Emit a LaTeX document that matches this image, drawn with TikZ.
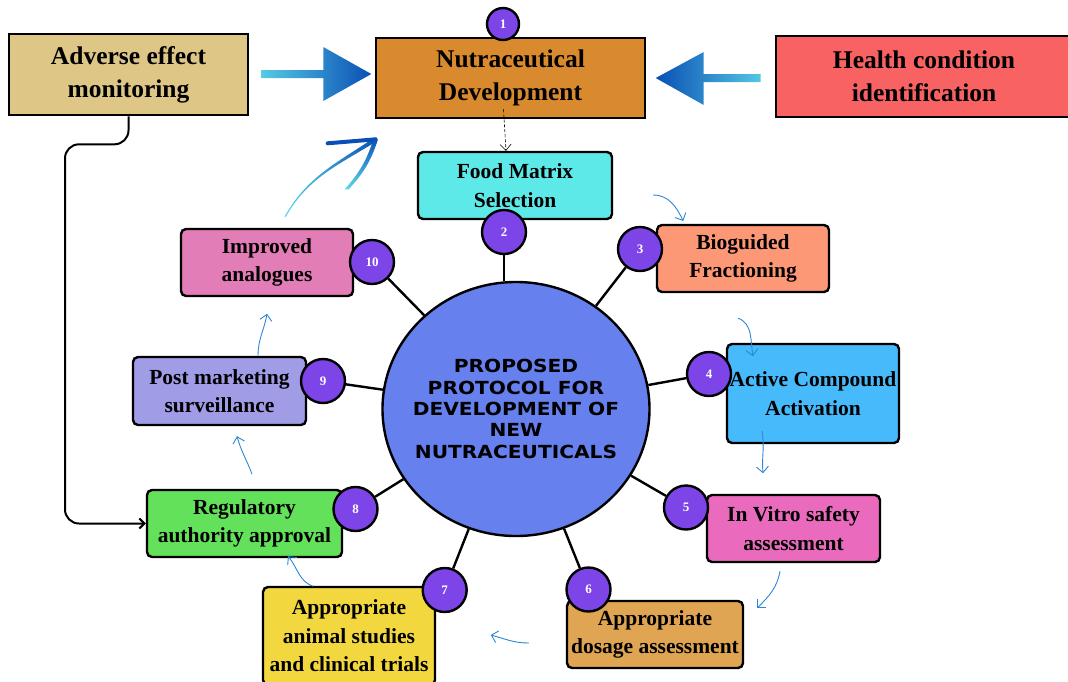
\documentclass[tikz,border=0pt]{standalone}
\usepackage{fontspec}
\setmainfont{Liberation Serif}
\newfontfamily\hubfont[FakeStretch=1.12]{DejaVu Sans}
\usetikzlibrary{arrows.meta,calc,shapes.geometric}

\definecolor{advtan}{HTML}{DEC687}
\definecolor{nutraorange}{HTML}{D98A2E}
\definecolor{healthred}{HTML}{F86262}
\definecolor{foodcyan}{HTML}{5EE9E9}
\definecolor{bioorange}{HTML}{FD9876}
\definecolor{activeblue}{HTML}{47BAFC}
\definecolor{vitropink}{HTML}{EA6BBE}
\definecolor{dosagegold}{HTML}{DFA553}
\definecolor{animalyellow}{HTML}{F2D83E}
\definecolor{regreen}{HTML}{63E15B}
\definecolor{postlav}{HTML}{A09CE6}
\definecolor{imprpink}{HTML}{E37DB8}
\definecolor{hubblue}{HTML}{6680EE}
\definecolor{numpurple}{HTML}{7D45E8}
\definecolor{acyan}{HTML}{5DD8E8}
\definecolor{ablue}{HTML}{0A4FB5}
\definecolor{flowblue}{HTML}{2C86D4}

\tikzset{
  topbox/.style={draw, line width=2.6pt, align=center, inner sep=2pt,
    font=\fontsize{25.5}{33}\selectfont\bfseries},
  stepbox/.style={draw, line width=2.4pt, rounded corners=5pt, align=center, inner sep=2pt,
    font=\fontsize{21.5}{28.5}\selectfont\bfseries},
  num/.style={circle, draw, line width=2.4pt, fill=numpurple, text=white,
    minimum size=44pt, inner sep=0pt, font=\fontsize{13}{13}\selectfont\bfseries},
  spoke/.style={line width=2.4pt},
  flow/.style={draw=flowblue, line width=0.9pt, -{Straight Barb[length=6pt,width=12pt]}},
}

\begin{document}
\begin{tikzpicture}[x=1pt, y=1pt]

    \useasboundingbox (0,0) rectangle (1068,-681);

    % top row
    \node[topbox, fill=advtan, minimum width=239pt, minimum height=81pt] (adv) at (128.5,-74.5) {Adverse effect\\monitoring};
    \node[topbox, fill=nutraorange, minimum width=269pt, minimum height=80pt] (nutra) at (510.5,-78) {Nutraceutical\\Development};
    \node[topbox, fill=healthred, minimum width=296pt, minimum height=81pt] (health) at (924,-76.5) {Health condition\\identification};
    \node[num, minimum size=32pt] (n1) at (503,-24) {1};

    \shade[left color=acyan, right color=ablue] (adv.east) ++(12,4.5) -- ++(62,0) -- ++(0,23) -- ++(48,-27) -- ++(-48,-27) -- ++(0,23) -- ++(-62,0) -- cycle;
    \shade[left color=ablue, right color=acyan] (health.west) ++(-14,2.5) -- ++(-57,0) -- ++(0,22) -- ++(-48,-26) -- ++(48,-27) -- ++(0,23) -- ++(57,0) -- cycle;

    % steps round the hub
    \node[stepbox, fill=foodcyan, minimum width=194pt, minimum height=67pt] (food) at (515,-185.5) {Food Matrix\\Selection};
    \node[stepbox, fill=bioorange, minimum width=172pt, minimum height=67pt] (bio) at (743,-258.5) {Bioguided\\Fractioning};
    \node[stepbox, fill=activeblue, minimum width=172pt, minimum height=99pt] (active) at (813,-393.5) {Active Compound\\Activation};
    \node[stepbox, fill=vitropink, minimum width=173pt, minimum height=67pt] (vitro) at (793.5,-528.5) {In Vitro safety\\assessment};
    \node[stepbox, fill=dosagegold, minimum width=176pt, minimum height=67pt] (dosage) at (655,-634.5) {Appropriate\\dosage assessment};
    \node[stepbox, fill=animalyellow, minimum width=172pt, minimum height=98pt] (animal) at (349,-636) {Appropriate\\animal studies\\and clinical trials};
    \node[stepbox, fill=regreen, minimum width=195pt, minimum height=67pt] (reg) at (244.5,-523.5) {Regulatory\\authority approval};
    \node[stepbox, fill=postlav, minimum width=173pt, minimum height=68pt] (post) at (219.5,-391) {Post marketing\\surveillance};
    \node[stepbox, fill=imprpink, minimum width=172pt, minimum height=67pt] (impr) at (267,-262.5) {Improved\\analogues};

    \node[ellipse, draw, line width=2.4pt, fill=hubblue, minimum width=267pt, minimum height=254pt, inner sep=0pt] (hub) at (516,-409) {};
    \node[align=center, font=\hubfont\bfseries\fontsize{18}{21.3}\selectfont] (hubtext) at (hub)
      {PROPOSED\\PROTOCOL FOR\\DEVELOPMENT OF\\NEW\\NUTRACEUTICALS};

    \node[num] (n2) at (504,-232) {2};
    \node[num] (n3) at (640,-249) {3};
    \node[num] (n4) at (709,-374) {4};
    \node[num] (n5) at (686,-507.5) {5};
    \node[num] (n6) at (588.5,-589.5) {6};
    \node[num] (n7) at (444.7,-590) {7};
    \node[num] (n8) at (355.5,-509) {8};
    \node[num] (n9) at (323,-381) {9};
    \node[num] (n10) at (372,-262) {10};

    \draw[spoke] (n2) -- (n2 |- hub.north);
    \foreach \k in {3,...,10} \draw[spoke] (n\k) -- (hub);

    % flow between steps
    \draw[densely dashed, line width=0.6pt, -{Straight Barb[length=6pt,width=11pt]}] ($(nutra.south)+(-7,10)$) -- ($(food.north)+(-9,0)$);
    \draw[flow] (food.east) ++(40,-9.5) to[out=0,in=115] ++(30,-26);
    \draw[flow] (bio.south) ++(-5,-25) to[out=-20,in=100] ++(15,-38);
    \draw[flow] (active.south) ++(-51,13) to[out=-80,in=95] ++(1,-42);
    \draw[flow] (vitro.south) ++(-13.5,-8) to[out=-100,in=45] ++(-23,-37);
    \draw[flow] (dosage.west) ++(-37,-8.5) to[out=180,in=-15] ++(-38,8);
    \draw[flow] (reg.south) ++(68.5,-28) to[out=160,in=-50] ++(-25,30);
    \draw[flow] (post.south) ++(32.5,-48) to[out=110,in=-75] ++(-15,38);
    \draw[flow] (post.north) ++(38.5,0) to[out=90,in=-100] ++(9,42);

    % back to development
    \coordinate (rise) at ($(impr.north)+(18,11)$);
    \coordinate (rtip) at ($(nutra.south west)+(1,-20)$);
    \shade[left color=acyan, right color=ablue] ($(rise)+(-0.5,0.3)$) to[out=60,in=-146] ($(rtip)+(-1.1,1.8)$) -- ($(rtip)+(1.1,-1.8)$) to[out=-148,in=60] ($(rise)+(0.5,-0.3)$) -- cycle;
    \draw[line width=4pt, line cap=round, ablue] ($(rtip)+(-48,-4)$) -- (rtip);
    \shade[top color=ablue, bottom color=acyan] ($(rtip)+(-2,1)$) to[bend left=12] ($(rtip)+(-31,-50)$) -- ($(rtip)+(-27,-50)$) to[bend right=12] ($(rtip)+(2,-1)$) -- cycle;

    % adverse effects feed the approval
    \draw[line width=2pt, rounded corners=14pt, -{Straight Barb[length=5pt,width=10pt]}] (adv.south) -- ++(0,-28) -- ++(-63.5,0) |- (reg.west);

\end{tikzpicture}
\end{document}
